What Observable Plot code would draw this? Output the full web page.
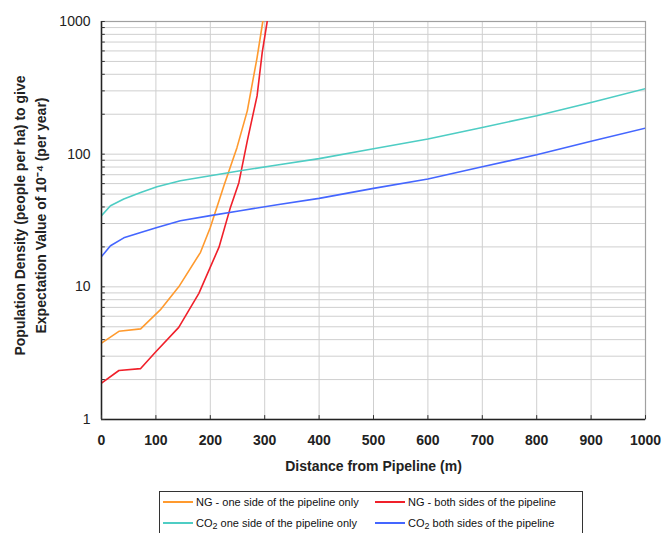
<!DOCTYPE html>
<html>
<head>
<meta charset="utf-8">
<script src="https://cdn.jsdelivr.net/npm/d3@7"></script>
<script src="https://cdn.jsdelivr.net/npm/@observablehq/plot@0.6"></script>
<style>
  body { margin: 0; background: #fff; overflow: hidden; }
  #wrap { position: relative; width: 663px; height: 533px; font-family: "Liberation Sans", Arial, sans-serif; }
  #legend { position: absolute; left: 159px; top: 491px; width: 424px; height: 50px; border: 1px solid #333; box-sizing: border-box; font-size: 11px; color: #111; }
  .item { position: absolute; display: flex; align-items: center; white-space: nowrap; }
  .sw { width: 30px; height: 0; border-top: 2px solid; margin-right: 3px; }
  sub { font-size: 9px; position: relative; top: 2px; vertical-align: baseline; line-height: 1; }
</style>
</head>
<body>
<div id="wrap">
  <div id="chart"></div>
  <div id="legend"></div>
</div>
<script>
// Series names
const seriesNames = [
  "NG - one side of the pipeline only",
  "NG - both sides of the pipeline",
  "CO2 one side of the pipeline only",
  "CO2 both sides of the pipeline"
];
const seriesColors = ["#ff9a2e", "#f0202a", "#4ecdc4", "#4466ff"];

// NG - one side
const ngOneX = [0, 32, 72, 108, 142, 182, 200, 225, 249, 268, 286, 296.5];
const ngOneY = [3.76, 4.62, 4.82, 6.7, 10, 18.2, 28, 57.8, 112, 212, 535, 1000];
// NG - both sides
const ngBothX = [0, 32, 72, 99, 142, 179, 216, 237, 252.5, 268, 286, 295.4, 304.6];
const ngBothY = [1.88, 2.34, 2.42, 3.21, 4.95, 8.93, 19.9, 39.7, 61, 126, 275, 583, 1000];
// CO2 - one side
const co2OneX = [0, 16.5, 41, 72, 102, 145, 200, 255, 323, 400, 500, 600, 700, 800, 900, 1000];
const co2OneY = [34.4, 40.9, 45.9, 51.5, 56.9, 63, 68.8, 75, 82.8, 92.5, 110, 130, 159, 195, 245, 312];
// CO2 - both sides
const co2BothX = [0, 16.5, 41, 72, 102, 145, 200, 255, 323, 400, 500, 600, 700, 800, 900, 1000];
const co2BothY = [16.9, 20.4, 23.4, 25.7, 28, 31.5, 34.4, 37.5, 41.6, 46.4, 55.2, 64.9, 80.4, 98.9, 125, 157];

const xTicks = [0, 100, 200, 300, 400, 500, 600, 700, 800, 900, 1000];
const yTicks = [1, 10, 100, 1000];

const seriesX = [ngOneX, ngBothX, co2OneX, co2BothX];
const seriesY = [ngOneY, ngBothY, co2OneY, co2BothY];
const data = [];
seriesNames.forEach((name, i) => {
  seriesX[i].forEach((x, j) => data.push({series: name, x, y: seriesY[i][j]}));
});

const minorY = [];
for (const d of [1, 10, 100]) for (let k = 1; k <= 9; k++) minorY.push(d * k);
minorY.push(1000);

const chart = Plot.plot({
  width: 663,
  height: 480,
  marginLeft: 101,
  marginRight: 18,
  marginTop: 21,
  marginBottom: 61,
  style: {fontFamily: "'Liberation Sans', Arial, sans-serif", background: "#fff", color: "#222"},
  x: {domain: [0, 1000]},
  y: {type: "log", domain: [1, 1000]},
  color: {domain: seriesNames, range: seriesColors},
  marks: [
    Plot.ruleY(minorY, {stroke: "#cfcfcf", strokeWidth: 1}),
    Plot.ruleX(xTicks, {stroke: "#cfcfcf", strokeWidth: 1}),
    Plot.frame({stroke: "#a0a0a0", strokeWidth: 1.2}),
    Plot.line(data, {x: "x", y: "y", z: "series", stroke: "series", strokeWidth: 1.6, clip: true}),
    Plot.ruleX([0], {stroke: "#222", strokeWidth: 1.5}),
    Plot.ruleY([1], {stroke: "#222", strokeWidth: 1.5}),
    Plot.ruleY(minorY, {x1: 0, x2: 7, stroke: "#333", strokeWidth: 1}),
    Plot.ruleX(xTicks, {y1: 1, y2: 1.07, stroke: "#333", strokeWidth: 1}),
    Plot.axisY({ticks: yTicks, tickSize: 0, tickPadding: 11, tickFormat: d => String(d), fontSize: 14, label: null}),
    Plot.axisX({ticks: xTicks, tickSize: 0, tickPadding: 16, tickFormat: d => String(d), fontSize: 14, fontWeight: "bold", label: null}),
    Plot.text(["Distance from Pipeline (m)"], {frameAnchor: "bottom", dy: 51, fontSize: 14, fontWeight: "bold", fill: "#222"}),
    Plot.text(["Population Density (people per ha) to give\nExpectation Value of 10\u207B\u2074 (per year)"],
      {frameAnchor: "left", textAnchor: "middle", dx: -73, dy: -5, rotate: -90, fontSize: 14, fontWeight: "bold", lineHeight: 1.55, fill: "#222"})
  ]
});
document.getElementById("chart").appendChild(chart);

// Legend
const legend = document.getElementById("legend");
const labelsHtml = [
  "NG - one side of the pipeline only",
  "NG - both sides of the pipeline",
  "CO<sub>2</sub> one side of the pipeline only",
  "CO<sub>2</sub> both sides of the pipeline"
];
const pos = [[3, 3], [215, 3], [3, 24], [215, 24]];
seriesNames.forEach((name, i) => {
  const el = document.createElement("div");
  el.className = "item";
  el.style.left = pos[i][0] + "px";
  el.style.top = pos[i][1] + "px";
  el.style.height = "14px";
  el.innerHTML = `<span class="sw" style="border-color:${seriesColors[i]}"></span><span>${labelsHtml[i]}</span>`;
  legend.appendChild(el);
});
</script>
</body>
</html>
